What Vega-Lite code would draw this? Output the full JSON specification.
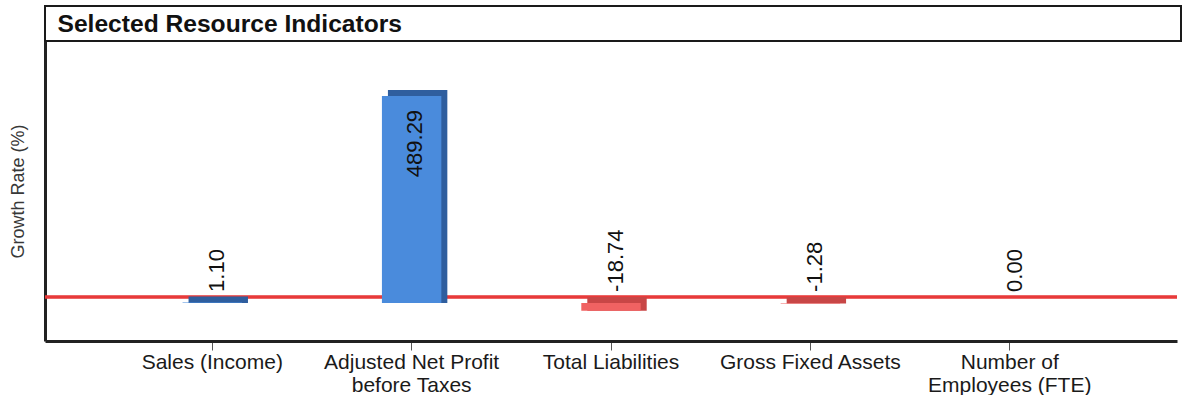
{
  "$schema": "https://vega.github.io/schema/vega-lite/v6.json",
  "background": "white",
  "padding": {"left": 9, "top": 5, "right": 0, "bottom": 0},
  "config": {
    "font": "Liberation Sans",
    "view": {"stroke": null},
    "locale": {"number": {"decimal": ".", "thousands": ",", "grouping": [3], "currency": ["$", ""], "minus": "-"}}
  },
  "bounds": "flush",
  "spacing": 0,
  "data": {"values": [
    {"indicator": "Sales (Income)", "value": 1.10},
    {"indicator": "Adjusted Net Profit|before Taxes", "value": 489.29},
    {"indicator": "Total Liabilities", "value": -18.74},
    {"indicator": "Gross Fixed Assets", "value": -1.28},
    {"indicator": "Number of|Employees (FTE)", "value": 0.00}
  ]},
  "vconcat": [
    {
      "width": 1136,
      "height": 35,
      "view": {"stroke": "#1a1a1a", "strokeWidth": 2, "fill": "white"},
      "mark": {"type": "text"},
      "encoding": {
        "x": {"field": "indicator", "type": "nominal", "sort": null,
          "axis": {"title": "Selected Resource Indicators", "orient": "bottom", "domain": false, "ticks": false, "labels": false, "grid": false,
            "titleAnchor": "start", "titleAlign": "left", "titleBaseline": "middle", "titleX": 12, "titleY": -17, "titleFontSize": 24.6, "titleFontWeight": "bold", "titleColor": "#111111", "titleFont": "Liberation Sans"}},
        "text": {"value": ""}
      }
    },
    {
      "width": 1132,
      "height": 300,
      "layer": [
        {
          "mark": {"type": "rule", "color": "#e83a3a", "strokeWidth": 2.5, "yOffset": -6},
          "encoding": {"y": {"datum": 0, "type": "quantitative"}}
        },
        {
          "transform": [{"filter": "datum.value > 0"}],
          "mark": {"type": "bar", "color": "#2f5e9e", "xOffset": 6, "x2Offset": 6, "yOffset": -6},
          "encoding": {
            "x": {"field": "indicator", "type": "nominal", "sort": null, "title": null, "scale": {"paddingInner": 0.702, "paddingOuter": 0.69}},
            "y": {"field": "value", "type": "quantitative"},
            "y2": {"datum": 0}
          }
        },
        {
          "transform": [{"filter": "datum.value < 0"}],
          "mark": {"type": "bar", "color": "#c84646", "xOffset": 6, "x2Offset": 6, "y2Offset": -6},
          "encoding": {
            "x": {"field": "indicator", "type": "nominal", "sort": null, "title": null, "scale": {"paddingInner": 0.702, "paddingOuter": 0.69}},
            "y": {"field": "value", "type": "quantitative"},
            "y2": {"datum": 0}
          }
        },
        {
          "mark": {"type": "bar"},
          "encoding": {
            "x": {"field": "indicator", "type": "nominal", "sort": null, "title": null,
              "scale": {"paddingInner": 0.702, "paddingOuter": 0.69},
              "axis": {"labelExpr": "split(datum.label, '|')", "labelAngle": 0, "labelAlign": "center", "labelLimit": 400, "labelFontSize": 21, "labelColor": "#1a1a1a", "labelLineHeight": 23, "labelPadding": 1, "labelBaseline": "top", "domainColor": "#222222", "domainWidth": 3, "tickColor": "#555555", "tickSize": 9, "tickWidth": 1}},
            "y": {"field": "value", "type": "quantitative",
              "scale": {"domain": [-90, 619], "nice": false, "zero": false},
              "axis": {"title": "Growth Rate (%)", "labels": false, "ticks": false, "grid": false, "domainColor": "#222222", "domainWidth": 3, "titleFontSize": 18, "titleFontWeight": "normal", "titleColor": "#383838", "titlePadding": 18}},
            "y2": {"datum": 0},
            "color": {"condition": {"test": "datum.value < 0", "value": "#f06262"}, "value": "#4a8bdc"}
          }
        },
        {
          "transform": [{"filter": "datum.value < 100"}],
          "mark": {"type": "text", "angle": 270, "align": "left", "baseline": "middle", "fontSize": 22, "color": "#111111", "xOffset": 5, "yOffset": -11},
          "encoding": {
            "x": {"field": "indicator", "type": "nominal", "sort": null, "title": null, "scale": {"paddingInner": 0.702, "paddingOuter": 0.69}},
            "y": {"datum": 0, "type": "quantitative"},
            "text": {"field": "value", "type": "quantitative", "format": ".2f"}
          }
        },
        {
          "transform": [{"filter": "datum.value >= 100"}],
          "mark": {"type": "text", "angle": 270, "align": "right", "baseline": "middle", "fontSize": 22, "color": "#111111", "xOffset": 3, "yOffset": 14},
          "encoding": {
            "x": {"field": "indicator", "type": "nominal", "sort": null, "title": null, "scale": {"paddingInner": 0.702, "paddingOuter": 0.69}},
            "y": {"field": "value", "type": "quantitative"},
            "text": {"field": "value", "type": "quantitative", "format": ".2f"}
          }
        }
      ]
    }
  ]
}
